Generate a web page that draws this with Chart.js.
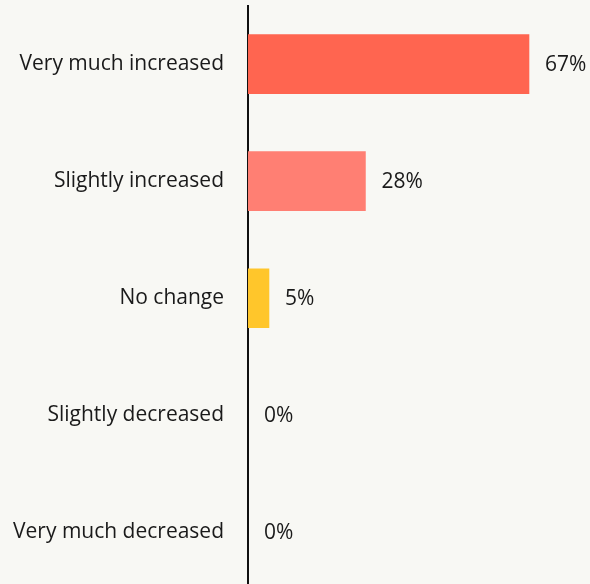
<!DOCTYPE html>
<html>
<head>
<meta charset="utf-8">
<script src="https://cdn.jsdelivr.net/npm/chart.js@4.4.1/dist/chart.umd.min.js"></script>
<style>
  html, body { margin: 0; padding: 0; background: #F8F8F4; overflow: hidden; }
  #wrap { width: 590px; height: 591px; }
</style>
</head>
<body>
<div id="wrap"><canvas id="chart" width="590" height="591"></canvas></div>
<script>
const categories = ['Very much increased', 'Slightly increased', 'No change', 'Slightly decreased', 'Very much decreased'];
const shares = [67, 28, 5, 0, 0];
const barColors = ['#FF6550', '#FF7F73', '#FFC62B', '#FFC62B', '#FFC62B'];

const FONT = { family: '"Open Sans", sans-serif', size: 21 };

// percentage text to the right of each bar
const valueLabels = {
    id: 'valueLabels',
    afterDatasetsDraw(chart) {
        const ctx = chart.ctx;
        const meta = chart.getDatasetMeta(0);
        ctx.save();
        ctx.font = `${FONT.size}px ${FONT.family}`;
        ctx.fillStyle = '#1a1a1a';
        ctx.textBaseline = 'middle';
        ctx.textAlign = 'left';
        meta.data.forEach((bar, i) => {
            ctx.fillText(shares[i] + '%', bar.x + 16, bar.y + 1);
        });
        ctx.restore();
    }
};

new Chart(document.getElementById('chart').getContext('2d'), {
    type: 'bar',
    data: {
        labels: categories,
        datasets: [{
            data: shares,
            // zero-width bars would leave an anti-aliased sliver on the axis
            backgroundColor: c => shares[c.dataIndex] > 0 ? barColors[c.dataIndex] : 'rgba(0,0,0,0)',
            borderWidth: 0,
            barThickness: 59
        }]
    },
    options: {
        indexAxis: 'y',
        responsive: false,
        animation: false,
        layout: { padding: { top: 5.5, right: 6.5, bottom: 0, left: 0 } },
        plugins: {
            legend: { display: false },
            tooltip: { enabled: false }
        },
        scales: {
            x: {
                display: false,
                min: 0,
                max: 80
            },
            y: {
                afterFit(scale) {
                    scale.width = 248;
                    scale.paddingTop = 0;
                    scale.paddingBottom = 0;
                },
                grid: { display: false, drawTicks: false },
                border: { display: true, color: '#111', width: 2 },
                ticks: {
                    color: '#1a1a1a',
                    font: FONT,
                    padding: 24
                }
            }
        }
    },
    plugins: [valueLabels]
});
</script>
</body>
</html>
